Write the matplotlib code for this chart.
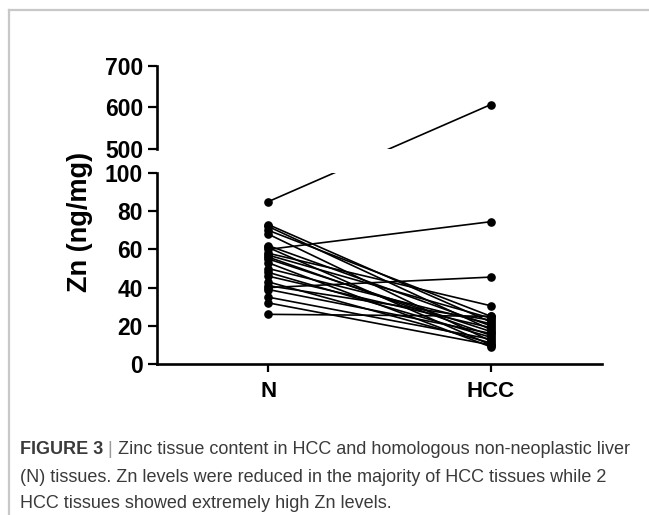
import matplotlib
matplotlib.use("Agg")
import matplotlib.pyplot as plt
from matplotlib.lines import Line2D

# ---- data ----
groups = ["N", "HCC"]
n_values = [85, 73, 72, 70, 68, 62, 61, 60, 58, 57, 56, 55, 53, 50, 48, 46, 43, 41, 40, 39, 35, 32, 26]
hcc_values = [607, 22, 18, 25, 12, 20, 10, 74.5, 30.5, 24, 15, 17, 9, 21, 14, 19, 11, 23, 45.5, 16, 13, 10, 25]
lower_ticks = [0, 20, 40, 60, 80, 100]
upper_ticks = [500, 600, 700]
ylabel = "Zn (ng/mg)"
cap_bold = "FIGURE 3"
cap_sep = " | "
cap_rest1 = "Zinc tissue content in HCC and homologous non-neoplastic liver"
cap_line2 = "(N) tissues. Zn levels were reduced in the majority of HCC tissues while 2"
cap_line3 = "HCC tissues showed extremely high Zn levels."

plt.rcParams['font.family'] = ['Liberation Sans', 'DejaVu Sans']

W, H = 649, 515
fig = plt.figure(figsize=(W / 100, H / 100), dpi=100)

def fx(px):
    return px / W

def fy(py):
    return 1 - py / H

left, right = 157, 602
ax_lo = fig.add_axes([fx(left), fy(364), fx(right - left), fy(173) - fy(364)])
ax_hi = fig.add_axes([fx(left), fy(149), fx(right - left), fy(66) - fy(149)])

lw_sp = 1.9
for ax in (ax_lo, ax_hi):
    ax.set_xlim(-0.5, 1.5)
    ax.spines['top'].set_visible(False)
    ax.spines['right'].set_visible(False)
    ax.spines['left'].set_linewidth(lw_sp)
    ax.spines['bottom'].set_linewidth(lw_sp)
    ax.tick_params(axis='y', direction='out', length=6.5, width=1.6, pad=3.5,
                   labelsize=16.5)
    ax.patch.set_alpha(0)

ax_lo.set_ylim(0, 100)
ax_lo.set_yticks(lower_ticks)
ax_lo.set_xticks([0, 1])
ax_lo.set_xticklabels(groups, fontweight='bold', fontsize=16)
ax_lo.tick_params(axis='x', direction='out', length=6, width=1.6, pad=6)
ax_hi.set_ylim(500, 700)
ax_hi.set_yticks(upper_ticks)
ax_hi.spines['bottom'].set_visible(False)
ax_hi.set_xticks([])
for ax in (ax_lo, ax_hi):
    for lab in ax.get_yticklabels():
        lab.set_fontweight('bold')

lcol = 'black'
ms = 5.2
lw = 1.2
for nv, hv in zip(n_values, hcc_values):
    if hv <= 100:
        ax_lo.plot([0, 1], [nv, hv], color=lcol, lw=lw, zorder=2)
        ax_lo.plot([0, 1], [nv, hv], ls='none', marker='o', ms=ms, color=lcol, zorder=3, clip_on=False)
    else:
        # straight line in display space between the two broken axes
        p_n = ax_lo.transData.transform((0, nv))
        p_h = ax_hi.transData.transform((1, hv))
        h_in_lo = ax_lo.transData.inverted().transform(p_h)
        n_in_hi = ax_hi.transData.inverted().transform(p_n)
        ax_lo.plot([0, h_in_lo[0]], [nv, h_in_lo[1]], color=lcol, lw=lw, zorder=2)
        ax_lo.plot([0], [nv], ls='none', marker='o', ms=ms, color=lcol, zorder=3)
        ax_hi.plot([n_in_hi[0], 1], [n_in_hi[1], hv], color=lcol, lw=lw, zorder=2)
        ax_hi.plot([1], [hv], ls='none', marker='o', ms=ms, color=lcol, zorder=3)

fig.text(fx(80), fy(222), ylabel, rotation=90, ha='center', va='center',
         fontsize=19.5, fontweight='bold')

# caption
cap_kw = dict(fontsize=13, color='#3a3a3a')
t1 = fig.text(fx(20), fy(450), cap_bold, fontweight='bold', va='center', **cap_kw)
fig.text(fx(20), fy(477), cap_line2, va='center', **cap_kw)
fig.text(fx(20), fy(503), cap_line3, va='center', **cap_kw)
t2 = ax_lo.annotate(cap_sep, xy=(1, 0), xycoords=t1, va='bottom', ha='left',
                    annotation_clip=False, fontsize=13, color='#9a9a9a')
ax_lo.annotate(cap_rest1, xy=(1, 0), xycoords=t2, va='bottom', ha='left',
               annotation_clip=False, **cap_kw)

# frame lines
fig.add_artist(Line2D([fx(9), 1], [fy(10), fy(10)], color='#c8c8c8', lw=1.6))
fig.add_artist(Line2D([fx(9), fx(9)], [fy(10), 0], color='#c8c8c8', lw=1.6))

fig.savefig("out.png", dpi=100)
